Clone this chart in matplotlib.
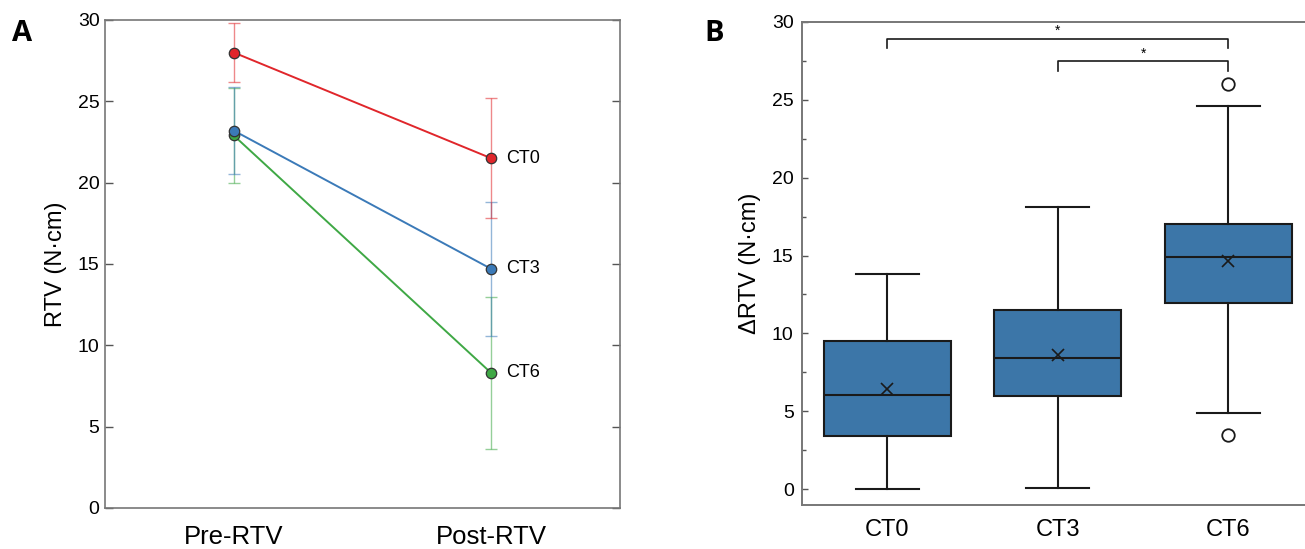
import matplotlib
matplotlib.use('Agg')
import matplotlib.pyplot as plt

plt.rcParams['font.family'] = ['Liberation Sans', 'DejaVu Sans']

# 图A数据：治疗前后RTV均值与标准差
groups = ['CT0', 'CT3', 'CT6']
time_labels = ['Pre-RTV', 'Post-RTV']
rtv_mean = {'CT0': [28.0, 21.5], 'CT3': [23.2, 14.7], 'CT6': [22.9, 8.3]}
rtv_sd = {'CT0': [1.8, 3.7], 'CT3': [2.65, 4.1], 'CT6': [2.9, 4.7]}
line_colors = {'CT0': '#e0262b', 'CT3': '#3b7ab8', 'CT6': '#3fa845'}

# 图B数据：ΔRTV箱线图统计量
box_low = [0.0, 0.1, 4.9]
box_q1 = [3.4, 6.0, 11.95]
box_med = [6.05, 8.4, 14.9]
box_q3 = [9.5, 11.5, 17.0]
box_high = [13.8, 18.1, 24.6]
box_mean = [6.45, 8.6, 14.65]
box_fliers = [[], [], [26.0, 3.5]]

# 显著性标注：(组1, 组2, 高度)
sig_pairs = [(0, 2, 28.9), (1, 2, 27.45)]

fig = plt.figure(figsize=(13.05, 5.49), dpi=100)

# ---------- 图A ----------
axA = fig.add_axes([0.0805, 0.0747, 0.3945, 0.8889])
x = [0, 1]
# 先画CT6，使CT3的点盖在上面
for g in reversed(groups):
    c = line_colors[g]
    axA.errorbar(x, rtv_mean[g], yerr=rtv_sd[g], fmt='none', ecolor=c,
                 elinewidth=1.0, capsize=4, capthick=1.0, alpha=0.55, zorder=2)
    axA.plot(x, rtv_mean[g], color=c, lw=1.4, zorder=3)
    axA.plot(x, rtv_mean[g], 'o', color=c, markersize=7.5, mec='#333333',
             mew=0.9, zorder=4)
    axA.text(1.06, rtv_mean[g][1], g, fontsize=13, va='center', ha='left')

axA.set_xlim(-0.5, 1.5)
axA.set_ylim(0, 30)
axA.set_xticks(x)
axA.set_xticklabels(time_labels, fontsize=18.5)
axA.set_yticks(range(0, 31, 5))
axA.tick_params(axis='y', direction='in', length=6, width=1.0, color='#555555',
                labelsize=14, left=True, right=True, pad=4)
axA.tick_params(axis='x', length=0, pad=12)
axA.set_ylabel('RTV (N·cm)', fontsize=17, labelpad=8)
for s in axA.spines.values():
    s.set_color('#777777')
    s.set_linewidth(1.2)

# ---------- 图B ----------
axB = fig.add_axes([0.6146, 0.0801, 0.392, 0.8806])
stats = []
for i in range(3):
    stats.append({'whislo': box_low[i], 'q1': box_q1[i], 'med': box_med[i],
                  'q3': box_q3[i], 'whishi': box_high[i], 'mean': box_mean[i],
                  'fliers': box_fliers[i]})
axB.bxp(stats, positions=[0, 1, 2], widths=0.745, capwidths=0.37,
        patch_artist=True, showmeans=True,
        boxprops=dict(facecolor='#3c76a8', edgecolor='#1a1a1a', linewidth=1.5),
        medianprops=dict(color='#1a1a1a', linewidth=1.5),
        whiskerprops=dict(color='#1a1a1a', linewidth=1.5),
        capprops=dict(color='#1a1a1a', linewidth=1.5),
        meanprops=dict(marker='x', markeredgecolor='#1a1a1a', markersize=8,
                       markeredgewidth=1.2),
        flierprops=dict(marker='o', markerfacecolor='none',
                        markeredgecolor='#1a1a1a', markersize=9,
                        markeredgewidth=1.3))

# 显著性括号
for a, b, h in sig_pairs:
    axB.plot([a, a, b, b], [h - 0.6, h, h, h - 0.6], color='#1a1a1a', lw=1.2)
    axB.text((a + b) / 2, h + 0.05, '*', ha='center', va='bottom', fontsize=10)

axB.set_xlim(-0.5, 2.5)
axB.set_ylim(-1, 30)
axB.set_xticks([0, 1, 2])
axB.set_xticklabels(groups, fontsize=17)
axB.set_yticks(range(0, 31, 5))
axB.set_yticks([2.5 + 5 * k for k in range(6)], minor=True)
axB.tick_params(axis='y', which='major', direction='in', length=4, width=1.0,
                color='#555555', labelsize=14, pad=6)
axB.tick_params(axis='y', which='minor', direction='in', length=3, width=1.0,
                color='#555555')
axB.tick_params(axis='x', length=0, pad=10)
axB.set_ylabel('ΔRTV (N·cm)', fontsize=17, labelpad=8)
for s in axB.spines.values():
    s.set_color('#777777')
    s.set_linewidth(1.4)

# 面板字母
fig.text(0.009, 0.965, 'A', fontsize=21, fontweight='bold', va='top',
         family=['Open Sans', 'DejaVu Sans'])
fig.text(0.540, 0.965, 'B', fontsize=21, fontweight='bold', va='top',
         family=['Open Sans', 'DejaVu Sans'])

fig.savefig('out.png', dpi=100)
